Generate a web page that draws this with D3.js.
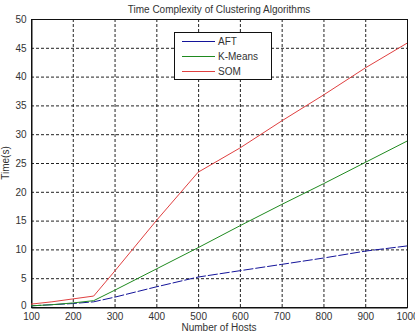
<html>
<head>
<script type='text/javascript' src='https://d3js.org/d3.v7.min.js'></script>
<style>
  body{margin:0; background:#fff;}
  text{font-family:"Liberation Sans",Arial,sans-serif; fill:#333;}
</style>
</head>
<body>
<div id='chart'></div>
<script type='text/javascript'>
// hosts on the x axis
var hosts = [100, 150, 200, 250, 300, 400, 500, 600, 700, 800, 900, 1000];
// time in seconds
var aft    = [0.2, 0.4, 0.6, 0.9, 1.7, 3.5, 5.2, 6.3, 7.4, 8.5, 9.7, 10.6];
var kmeans = [0.2, 0.4, 0.7, 1.1, 2.9, 6.6, 10.3, 14.1, 17.8, 21.4, 25.1, 28.8];
var som    = [0.5, 0.9, 1.4, 1.9, 6.2, 15.0, 23.4, 27.6, 32.3, 36.8, 41.5, 45.8];
var seriesNames = ['AFT', 'K-Means', 'SOM'];
var xTicks = [100, 200, 300, 400, 500, 600, 700, 800, 900, 1000];
var yTicks = [0, 5, 10, 15, 20, 25, 30, 35, 40, 45, 50];

var W = 415, H = 336;
var m = {left:31, top:19, right:8, bottom:29};

var svg = d3.select('#chart').append('svg')
  .attr('width', W).attr('height', H);

var x = d3.scaleLinear().domain([100, 1000]).range([m.left, W - m.right]);
var y = d3.scaleLinear().domain([0, 50]).range([H - m.bottom, m.top]);

// dotted grid
svg.append('g').selectAll('line.vg')
  .data(xTicks.slice(1, -1)).enter().append('line')
    .attr('x1', function(d){ return x(d) + 0.5 }).attr('x2', function(d){ return x(d) + 0.5 })
    .attr('y1', y(50)).attr('y2', y(0))
    .attr('stroke', '#222').attr('stroke-dasharray', '3,2');
svg.append('g').selectAll('line.hg')
  .data(yTicks.slice(1, -1)).enter().append('line')
    .attr('x1', x(100)).attr('x2', x(1000))
    .attr('y1', function(d){ return y(d) + 0.5 }).attr('y2', function(d){ return y(d) + 0.5 })
    .attr('stroke', '#222').attr('stroke-dasharray', '3,2');

// box
svg.append('rect')
  .attr('x', x(100) + 0.5).attr('y', y(50) + 0.5)
  .attr('width', x(1000) - x(100)).attr('height', y(0) - y(50))
  .attr('fill', 'none').attr('stroke', '#111');

// axes
var xAxis = svg.append('g')
  .attr('transform', 'translate(0,' + (y(0) + 0.5) + ')')
  .call(d3.axisBottom(x).tickValues(xTicks).tickFormat(d3.format('d')).tickSize(0).tickPadding(5));
var yAxis = svg.append('g')
  .attr('transform', 'translate(' + (x(100) + 0.5) + ',0)')
  .call(d3.axisLeft(y).tickValues(yTicks).tickFormat(d3.format('d')).tickSize(0).tickPadding(5));
[xAxis, yAxis].forEach(function(a){
  a.select('.domain').attr('stroke', '#111');
  a.selectAll('text').attr('font-size', 10).attr('fill', '#333')
    .attr('font-family', '"Liberation Sans",Arial,sans-serif');
});
// the "0" sits a little above the axis, as in the original
yAxis.selectAll('.tick text').filter(function(d){ return d === 0 }).attr('dy', '0.1em');

// lines
var colors = ['#14149a', '#1f8a1f', '#e04040'];
var dashes = ['10,2', null, null];
var allSeries = [aft, kmeans, som];
var line = d3.line()
  .x(function(d, i){ return x(hosts[i]) })
  .y(function(d){ return y(d) });
svg.selectAll('path.series')
  .data(allSeries).enter().append('path')
    .attr('class', 'series')
    .attr('d', line)
    .attr('fill', 'none')
    .attr('stroke', function(d, i){ return colors[i] })
    .attr('stroke-dasharray', function(d, i){ return dashes[i] })
    .attr('stroke-width', 1);

// legend
var lg = svg.append('g');
lg.append('rect')
  .attr('x', 174.5).attr('y', 32.5).attr('width', 97).attr('height', 47)
  .attr('fill', '#fff').attr('stroke', '#111');
seriesNames.forEach(function(name, i){
  var ly = 41 + i * 15;
  lg.append('line')
    .attr('x1', 182).attr('x2', 215).attr('y1', ly + 0.5).attr('y2', ly + 0.5)
    .style('stroke', colors[i]).style('stroke-width', 1.2);
  lg.append('text')
    .attr('x', 218).attr('y', ly + 4)
    .attr('font-size', 10)
    .text(name);
});

// titles
svg.append('text')
  .attr('x', 219).attr('y', 13).attr('text-anchor', 'middle')
  .attr('font-size', 10)
  .text('Time Complexity of Clustering Algorithms');
svg.append('text')
  .attr('x', 219).attr('y', 331).attr('text-anchor', 'middle')
  .attr('font-size', 10)
  .text('Number of Hosts');
svg.append('text')
  .attr('transform', 'translate(9,' + y(25) + ') rotate(-90)')
  .attr('text-anchor', 'middle')
  .attr('font-size', 10)
  .text('Time(s)');
</script>
</body>
</html>
